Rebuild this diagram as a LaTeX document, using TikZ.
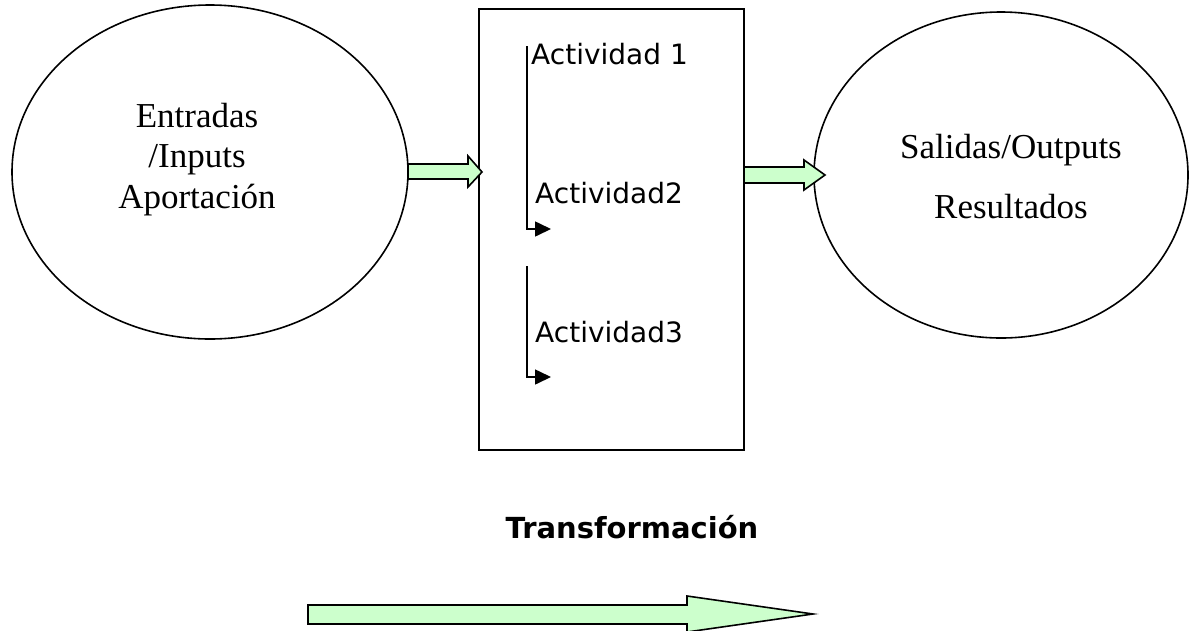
\documentclass[tikz,border=0pt]{standalone}
\usepackage{fontspec}
\usetikzlibrary{shapes.geometric,arrows.meta}
\newfontfamily\verd{DejaVu Sans}
\newfontfamily\serifface{Liberation Serif}
\definecolor{lgreen}{HTML}{CCFFCC}
\tikzset{
  oval/.style={ellipse,draw,line width=1.6pt,inner sep=0pt},
  serifTxt/.style={font=\serifface\fontsize{35}{42}\selectfont,anchor=base,inner sep=0pt},
  actTxt/.style={font=\verd\fontsize{28}{34}\selectfont,anchor=base west,inner sep=0pt},
  blockarrow/.style={draw,fill=lgreen,line width=1.6pt,line join=miter},
  flow/.style={line width=1.6pt,-{Triangle[length=16pt,width=15pt]}}
}
\begin{document}
\begin{tikzpicture}[x=1pt,y=-1pt]
\useasboundingbox (0,0) rectangle (1194,630);
\clip (0,0) rectangle (1194,630);
% ellipses
\node[oval,minimum width=396pt,minimum height=334pt] (inp) at (210,172) {};
\node[oval,minimum width=374pt,minimum height=326pt] (out) at (1001,175) {};
\node[serifTxt] (t1) at (197,127) {Entradas};
\node[serifTxt] (t2) at (197,167) {/Inputs};
\node[serifTxt] (t3) at (197,208) {Aportación};
\node[serifTxt] (t4) at (1011,158) {Salidas/Outputs};
\node[serifTxt] (t5) at (1011,218) {Resultados};
% box
\node[draw,line width=1.6pt,minimum width=265pt,minimum height=441pt,inner sep=0pt] (box) at (611.5,229.5) {};
% activities
\node[actTxt] (a1) at (531,64) {Actividad 1};
\node[actTxt] (a2) at (535,203) {Actividad2};
\node[actTxt] (a3) at (535,342) {Actividad3};
\coordinate (s1) at (527,46);
\coordinate (e1) at (551,229);
\coordinate (s2) at (527,266);
\coordinate (e2) at (551,377);
\draw[flow] (s1) |- (e1);
\draw[flow] (s2) |- (e2);
% block arrows
\draw[blockarrow] (408,164) -- (468,164) -- (468,156) -- (482,172) -- (468,187) -- (468,179) -- (408,179) -- cycle;
\draw[blockarrow] (744,167) -- (804,167) -- (804,160) -- (825,175) -- (804,190) -- (804,183) -- (744,183) -- cycle;
% transformation
\node[font=\verd\bfseries\fontsize{29}{34}\selectfont,anchor=base,inner sep=0pt] (tr) at (632,538) {Transformación};
\draw[blockarrow] (308,605) -- (687,605) -- (687,596) -- (813,614) -- (687,632) -- (687,624) -- (308,624) -- cycle;
\end{tikzpicture}
\end{document}
